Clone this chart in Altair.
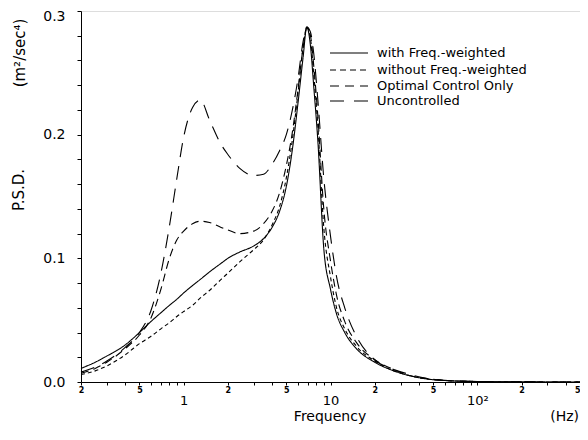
import altair as alt
import pandas as pd

freq = [0.2, 0.25, 0.3, 0.4, 0.5, 0.6, 0.7, 0.8, 0.9, 1.0, 1.15, 1.3, 1.5, 1.8, 2.0, 2.4,
        3.0, 3.5, 4.0, 4.5, 5.0, 5.5, 6.0, 6.5, 6.9, 7.3, 7.7, 8.2, 9.0, 10, 11, 12.5,
        15, 20, 27, 35, 45, 60, 100, 200, 500]

with_fw = [0.011, 0.016, 0.021, 0.030, 0.040, 0.049, 0.056, 0.062, 0.067, 0.072, 0.078, 0.083,
           0.089, 0.096, 0.100, 0.105, 0.110, 0.116, 0.125, 0.138, 0.158, 0.188, 0.225, 0.262,
           0.287, 0.272, 0.238, 0.195, 0.108, 0.075, 0.055, 0.040, 0.027, 0.016, 0.009, 0.005,
           0.0025, 0.0012, 0.0004, 0.0001, 0.0]
without_fw = [0.006, 0.009, 0.013, 0.022, 0.031, 0.037, 0.043, 0.048, 0.053, 0.057, 0.062, 0.068,
              0.074, 0.083, 0.088, 0.097, 0.107, 0.115, 0.127, 0.142, 0.165, 0.196, 0.233, 0.270,
              0.287, 0.278, 0.248, 0.207, 0.125, 0.085, 0.060, 0.043, 0.029, 0.017, 0.009, 0.005,
              0.0025, 0.0012, 0.0004, 0.0001, 0.0]
optimal = [0.007, 0.011, 0.016, 0.027, 0.038, 0.052, 0.075, 0.100, 0.115, 0.122, 0.128, 0.130,
           0.129, 0.125, 0.123, 0.120, 0.122, 0.128, 0.138, 0.153, 0.175, 0.202, 0.236, 0.270,
           0.286, 0.280, 0.255, 0.215, 0.140, 0.098, 0.070, 0.049, 0.032, 0.018, 0.010, 0.005,
           0.0028, 0.0013, 0.0004, 0.0001, 0.0]
uncontrolled = [0.008, 0.012, 0.017, 0.028, 0.040, 0.058, 0.088, 0.126, 0.165, 0.198, 0.222, 0.228,
                0.212, 0.192, 0.184, 0.173, 0.167, 0.168, 0.176, 0.187, 0.200, 0.220, 0.245, 0.275,
                0.287, 0.283, 0.265, 0.228, 0.165, 0.118, 0.085, 0.060, 0.037, 0.018, 0.010, 0.006,
                0.003, 0.0014, 0.0004, 0.0001, 0.0]

series_names = ["with Freq.-weighted", "without Freq.-weighted", "Optimal Control Only", "Uncontrolled"]
series_values = [with_fw, without_fw, optimal, uncontrolled]
dashes = [[1, 0], [4, 3], [8, 5], [14, 9]]
legend_dashes = [[1, 0], [6, 4], [9, 6], [14, 10]]

x_ticks = [0.2, 0.3, 0.4, 0.5, 0.6, 0.7, 0.8, 0.9, 1, 2, 3, 4, 5, 6, 7, 8, 9,
           10, 20, 30, 40, 50, 60, 70, 80, 90, 100, 200, 300, 400, 500]
y_ticks = [0, 0.02, 0.04, 0.06, 0.08, 0.1, 0.12, 0.14, 0.16, 0.18, 0.2, 0.22, 0.24, 0.26, 0.28, 0.3]

rows = []
for name, vals in zip(series_names, series_values):
    for f, v in zip(freq, vals):
        rows.append({"freq": f, "psd": v, "series": name})
df = pd.DataFrame(rows)

FONT = "DejaVu Sans"
W, H = 499, 371

decade_test = "datum.value == 1 || datum.value == 10 || datum.value == 100"
x_label_expr = ("datum.value == 1 ? '1' : datum.value == 10 ? '10' : datum.value == 100 ? '10²' : "
                "(datum.value == 0.2 || datum.value == 2 || datum.value == 20 || datum.value == 200) ? '2' : "
                "(datum.value == 0.5 || datum.value == 5 || datum.value == 50 || datum.value == 500) ? '5' : ''")

x_axis = alt.Axis(
    values=x_ticks, labelExpr=x_label_expr, title=None, labelOverlap=False,
    tickSize=3, tickColor="black", domainColor="black", labelColor="black",
    labelFont=FONT, grid=False,
    labelFontSize={"condition": {"test": decade_test, "value": 13}, "value": 8},
    labelFontWeight={"condition": {"test": decade_test, "value": "normal"}, "value": "bold"},
    labelPadding={"condition": {"test": decade_test, "value": 9}, "value": 1},
    labelAlign={"condition": {"test": "datum.value == 500", "value": "right"}, "value": "center"},
)
y_axis = alt.Axis(
    values=y_ticks,
    labelExpr="(datum.value == 0 || datum.value == 0.1 || datum.value == 0.2 || datum.value == 0.3) ? format(datum.value, '.1f') : ''",
    title=None, tickSize=4, tickColor="black", domainColor="black", labelColor="black",
    labelFont=FONT, labelFontSize=14, labelPadding=12, grid=False, labelOverlap=False,
    labelOffset={"condition": {"test": "datum.value == 0.3", "value": 5}, "value": 0},
)

lines = alt.Chart(df).mark_line(color="black", strokeWidth=1.1, interpolate="monotone").encode(
    x=alt.X("freq:Q", scale=alt.Scale(type="log", domain=[0.2, 500], nice=False), axis=x_axis),
    y=alt.Y("psd:Q", scale=alt.Scale(domain=[0, 0.3], nice=False), axis=y_axis),
    strokeDash=alt.StrokeDash("series:N", scale=alt.Scale(domain=series_names, range=dashes), legend=None),
    detail="series:N",
)

layers = [lines]
one = pd.DataFrame({"a": [0]})
row_y = [42, 59, 75, 90]
for name, d, ry in zip(series_names, legend_dashes, row_y):
    layers.append(alt.Chart(one).mark_rule(color="black", strokeWidth=1.2, strokeDash=d).encode(
        x=alt.value(249), x2=alt.value(287), y=alt.value(ry)))
    layers.append(alt.Chart(one).mark_text(align="left", baseline="middle", font=FONT, fontSize=13,
                                           color="black").encode(
        x=alt.value(296), y=alt.value(ry), text=alt.value(name)))

# (text, x, y, angle, size, baseline, align)
titles = [
    ("P.S.D.", -62, 179, 270, 15, "middle", "center"),
    ("(m²/sec⁴)", -61, 42, 270, 15, "middle", "center"),
    ("Frequency", 249, 410, 0, 14, "alphabetic", "center"),
    ("(Hz)", 498, 410, 0, 14, "alphabetic", "right"),
]
for t, tx, ty, ang, fs, bl, al in titles:
    layers.append(alt.Chart(one).mark_text(align=al, baseline=bl, font=FONT, fontSize=fs,
                                           color="black", angle=ang).encode(
        x=alt.value(tx), y=alt.value(ty), text=alt.value(t)))

chart = alt.layer(*layers).properties(
    width=W, height=H,
    autosize=alt.AutoSizeParams(type="none"),
    padding={"left": 73, "top": 3, "right": 0, "bottom": 43},
).configure_view(stroke="black", strokeWidth=1.3).configure(background="white")

chart.save("out.html", embed_options={"renderer": "svg", "actions": False})
